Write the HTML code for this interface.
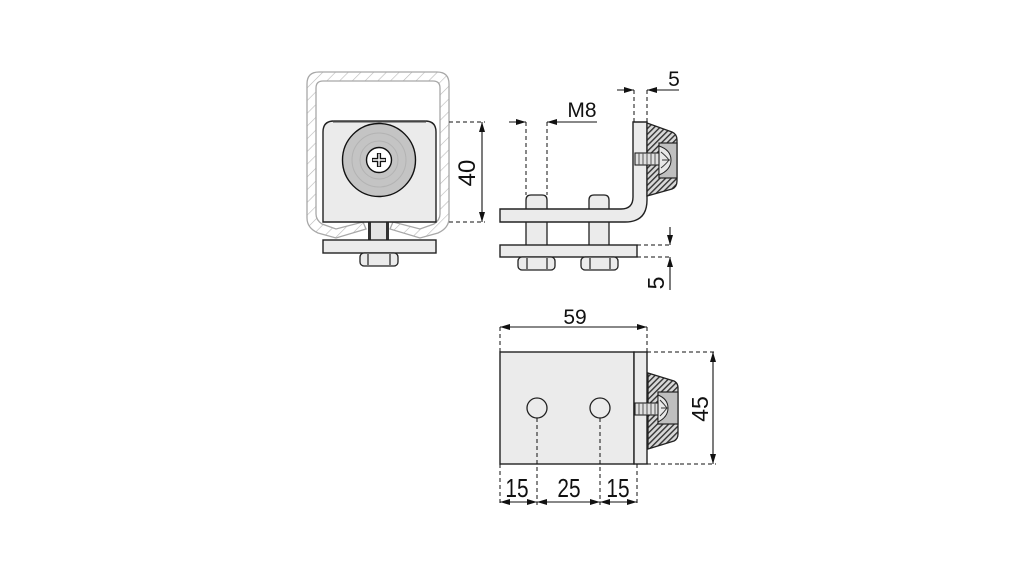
<!DOCTYPE html>
<html><head><meta charset="utf-8"><style>
html,body{margin:0;padding:0;background:#fff;}
svg{display:block;}
text{font-family:"Liberation Sans",Arial,sans-serif;font-size:21px;fill:#111;}
text.big{font-size:26px;}
</style></head><body>
<svg width="1021" height="567" viewBox="0 0 1021 567" xmlns="http://www.w3.org/2000/svg">
<defs>
<pattern id="hl" patternUnits="userSpaceOnUse" width="9" height="9" patternTransform="rotate(45)">
<rect width="9" height="9" fill="#fff"/><line x1="0" y1="0" x2="0" y2="9" stroke="#b8b8b8" stroke-width="1.2"/>
</pattern>
<pattern id="hd" patternUnits="userSpaceOnUse" width="4" height="4" patternTransform="rotate(45)">
<rect width="4" height="4" fill="#d8d8d8"/><line x1="0.7" y1="0" x2="0.7" y2="4" stroke="#333" stroke-width="1.4"/>
</pattern>
<marker id="ah" viewBox="0 0 10 6" refX="10" refY="3" markerWidth="10" markerHeight="6" markerUnits="userSpaceOnUse" orient="auto">
<path d="M0,0 L10,3 L0,6 Z" fill="#111"/>
</marker>
</defs>

<!-- ============ FRONT VIEW ============ -->
<path d="M366,229 L336,238 L318,233 Q307,228 307,218 L307,84 Q307,72 319,72 L437,72 Q449,72 449,84 L449,218 Q449,228 438,233 L420,238 L390,229 L393,222 L420,229 L434,224 Q440,220 440,214 L440,88 Q440,81 433,81 L323,81 Q316,81 316,88 L316,214 Q316,220 322,224 L336,229 L363,222 Z" fill="url(#hl)" stroke="#a8a8a8" stroke-width="1.3"/>
<rect x="368" y="221" width="21" height="19" fill="#e4e4e4"/>
<line x1="369.5" y1="221" x2="369.5" y2="240" stroke="#333" stroke-width="3"/>
<line x1="387.5" y1="221" x2="387.5" y2="240" stroke="#333" stroke-width="3"/>
<path d="M323,222 L323,132 Q323,121 334,121 L425,121 Q436,121 436,132 L436,222 Z" fill="#ebebeb" stroke="#222" stroke-width="1.4"/>
<line x1="333" y1="121.5" x2="426" y2="121.5" stroke="#444" stroke-width="2"/>
<circle cx="379" cy="160" r="36.5" fill="#c4c4c4" stroke="#111" stroke-width="1.4"/>
<circle cx="379" cy="160" r="27" fill="none" stroke="#b3b3b3" stroke-width="1"/>
<circle cx="379" cy="160" r="19" fill="none" stroke="#b3b3b3" stroke-width="1"/>
<circle cx="379" cy="160" r="12.5" fill="#fff" stroke="#111" stroke-width="1.4"/>
<path d="M372,160 H386 M379,153 V167" stroke="#111" stroke-width="4.2"/>
<path d="M372.8,160 H385.2 M379,153.8 V166.2" stroke="#fff" stroke-width="1.4"/>
<rect x="323" y="240" width="113" height="13" fill="#ebebeb" stroke="#222" stroke-width="1.4"/>
<rect x="360" y="253" width="38" height="13" rx="4" fill="#ebebeb" stroke="#222" stroke-width="1.3"/>
<line x1="368" y1="254" x2="368" y2="265" stroke="#222" stroke-width="1.2"/>
<line x1="390" y1="254" x2="390" y2="265" stroke="#222" stroke-width="1.2"/>
<path d="M449,122 H485 M449,222 H485" stroke="#111" stroke-width="1" stroke-dasharray="4,3" fill="none"/>
<line x1="482" y1="172" x2="482" y2="122" stroke="#111" stroke-width="1.1" marker-end="url(#ah)"/>
<line x1="482" y1="172" x2="482" y2="222" stroke="#111" stroke-width="1.1" marker-end="url(#ah)"/>
<text x="0" y="0" text-anchor="middle" style="font-size:24px" transform="translate(475,173) rotate(-90)">40</text>

<!-- ============ SIDE VIEW ============ -->
<path d="M526,257 V200 Q526,195 531,195 H542 Q547,195 547,200 V257 Z" fill="#ebebeb" stroke="#222" stroke-width="1.3"/>
<path d="M589,257 V200 Q589,195 594,195 H604 Q609,195 609,200 V257 Z" fill="#ebebeb" stroke="#222" stroke-width="1.3"/>
<path d="M500,209 L621,209 Q633,209 633,197 L633,122 L647,122 L647,200 Q647,222 625,222 L500,222 Z" fill="#ebebeb" stroke="#222" stroke-width="1.4"/>
<rect x="500" y="245" width="137" height="12" fill="#ebebeb" stroke="#222" stroke-width="1.4"/>
<rect x="518" y="257" width="37" height="13" rx="4" fill="#ebebeb" stroke="#222" stroke-width="1.3"/>
<line x1="527" y1="258" x2="527" y2="269" stroke="#222" stroke-width="1.2"/>
<line x1="547" y1="258" x2="547" y2="269" stroke="#222" stroke-width="1.2"/>
<rect x="581" y="257" width="37" height="13" rx="4" fill="#ebebeb" stroke="#222" stroke-width="1.3"/>
<line x1="590" y1="258" x2="590" y2="269" stroke="#222" stroke-width="1.2"/>
<line x1="610" y1="258" x2="610" y2="269" stroke="#222" stroke-width="1.2"/>
<path d="M647,123 L672,132 Q677,134 677,140 L677,181 Q677,187 672,189 L647,196 Z" fill="url(#hd)" stroke="#222" stroke-width="1.3"/>
<rect x="659" y="143" width="18" height="35" fill="#bfbfbf" stroke="#222" stroke-width="1.2"/>
<path d="M659,146 Q671,150 671,160 Q671,170 659,175 Z" fill="#e8e8e8" stroke="#222" stroke-width="1"/>
<path d="M661,152 Q666,156 669,160 Q666,164 661,168 M662,160 H670" stroke="#333" stroke-width="1" fill="none"/>
<rect x="635" y="153" width="24" height="12" fill="#e0e0e0" stroke="#222" stroke-width="1.1"/>
<path d="M639,153 V165 M643,153 V165 M647,153 V165 M651,153 V165 M655,153 V165" stroke="#555" stroke-width="1"/>
<path d="M526,122 V195 M547,122 V195" stroke="#111" stroke-width="1" stroke-dasharray="4,3"/>
<line x1="509" y1="122" x2="526" y2="122" stroke="#111" stroke-width="1.1" marker-end="url(#ah)"/>
<line x1="597" y1="122" x2="547" y2="122" stroke="#111" stroke-width="1.1" marker-end="url(#ah)"/>
<text x="582" y="117" text-anchor="middle">M8</text>
<path d="M634,90 V122 M647,90 V122" stroke="#111" stroke-width="1" stroke-dasharray="4,3"/>
<line x1="617" y1="90" x2="634" y2="90" stroke="#111" stroke-width="1.1" marker-end="url(#ah)"/>
<line x1="679" y1="90" x2="647" y2="90" stroke="#111" stroke-width="1.1" marker-end="url(#ah)"/>
<text x="674" y="86" text-anchor="middle">5</text>
<path d="M637,245 H670 M637,257 H670" stroke="#111" stroke-width="1" stroke-dasharray="4,3"/>
<line x1="670" y1="227" x2="670" y2="245" stroke="#111" stroke-width="1.1" marker-end="url(#ah)"/>
<line x1="670" y1="290" x2="670" y2="257" stroke="#111" stroke-width="1.1" marker-end="url(#ah)"/>
<text x="0" y="0" text-anchor="middle" style="font-size:23px" transform="translate(664,283) rotate(-90)">5</text>

<!-- ============ BOTTOM VIEW ============ -->
<rect x="500" y="352" width="134" height="112" fill="#ebebeb" stroke="#222" stroke-width="1.4"/>
<rect x="634" y="352" width="13" height="112" fill="#ebebeb" stroke="#222" stroke-width="1.4"/>
<circle cx="537" cy="408" r="10" fill="#ebebeb" stroke="#222" stroke-width="1.3"/>
<circle cx="600" cy="408" r="10" fill="#ebebeb" stroke="#222" stroke-width="1.3"/>
<path d="M648,373 L674,381 Q678,383 678,388 L678,434 Q678,439 674,441 L648,449 Z" fill="url(#hd)" stroke="#222" stroke-width="1.3"/>
<rect x="658" y="392" width="20" height="32" fill="#bfbfbf" stroke="#222" stroke-width="1.2"/>
<path d="M658,395 Q668,399 668,408 Q668,417 658,422 Z" fill="#e8e8e8" stroke="#222" stroke-width="1"/>
<path d="M660,400 Q664,404 667,408 Q664,412 660,416 M661,408 H668" stroke="#333" stroke-width="1" fill="none"/>
<rect x="635" y="403" width="23" height="12" fill="#e0e0e0" stroke="#222" stroke-width="1.1"/>
<path d="M639,403 V415 M643,403 V415 M647,403 V415 M651,403 V415 M655,403 V415" stroke="#555" stroke-width="1"/>
<path d="M500,327 V352 M647,327 V352" stroke="#111" stroke-width="1" stroke-dasharray="4,3"/>
<line x1="573" y1="327" x2="500" y2="327" stroke="#111" stroke-width="1.1" marker-end="url(#ah)"/>
<line x1="573" y1="327" x2="647" y2="327" stroke="#111" stroke-width="1.1" marker-end="url(#ah)"/>
<text x="575" y="324" text-anchor="middle">59</text>
<path d="M647,352 H716 M680,464 H716" stroke="#111" stroke-width="1" stroke-dasharray="4,3"/>
<path d="M647,464 H680" stroke="#111" stroke-width="1" stroke-dasharray="4,3"/>
<line x1="713" y1="408" x2="713" y2="352" stroke="#111" stroke-width="1.1" marker-end="url(#ah)"/>
<line x1="713" y1="408" x2="713" y2="464" stroke="#111" stroke-width="1.1" marker-end="url(#ah)"/>
<text x="0" y="0" text-anchor="middle" style="font-size:23px" transform="translate(708,409) rotate(-90)">45</text>
<path d="M500,464 V505 M637,464 V505 M537,418 V505 M600,418 V505" stroke="#111" stroke-width="1" stroke-dasharray="4,3"/>
<line x1="518" y1="502" x2="500" y2="502" stroke="#111" stroke-width="1.1" marker-end="url(#ah)"/>
<line x1="518" y1="502" x2="537" y2="502" stroke="#111" stroke-width="1.1" marker-end="url(#ah)"/>
<line x1="568" y1="502" x2="537" y2="502" stroke="#111" stroke-width="1.1" marker-end="url(#ah)"/>
<line x1="568" y1="502" x2="600" y2="502" stroke="#111" stroke-width="1.1" marker-end="url(#ah)"/>
<line x1="618" y1="502" x2="600" y2="502" stroke="#111" stroke-width="1.1" marker-end="url(#ah)"/>
<line x1="618" y1="502" x2="637" y2="502" stroke="#111" stroke-width="1.1" marker-end="url(#ah)"/>
<text class="big" x="0" y="0" text-anchor="middle" transform="translate(517,497) scale(0.8,1)">15</text>
<text class="big" x="0" y="0" text-anchor="middle" transform="translate(569,497) scale(0.8,1)">25</text>
<text class="big" x="0" y="0" text-anchor="middle" transform="translate(618,497) scale(0.8,1)">15</text>
</svg>
</body></html>
